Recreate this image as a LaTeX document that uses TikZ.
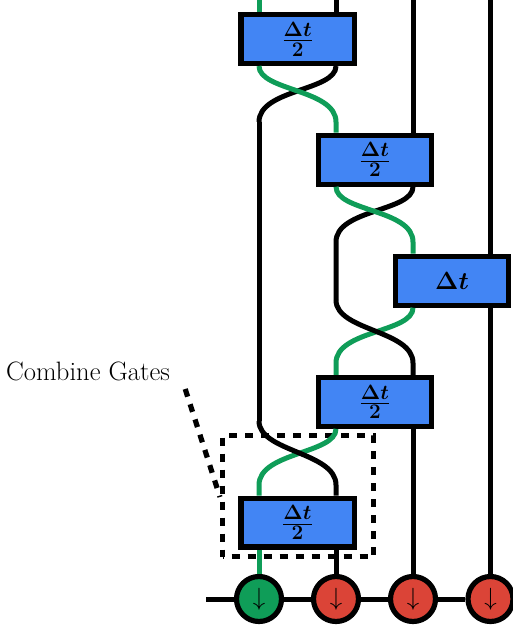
\documentclass[tikz,border=0pt]{standalone}
\definecolor{gblue}{HTML}{4285F4}
\definecolor{ggreen}{HTML}{0F9D58}
\definecolor{gred}{HTML}{DB4437}
\newcommand{\halfstep}{{\fontsize{28}{32}\selectfont\boldmath$\textstyle\frac{\Delta t}{2}$}}
\newcommand{\fullstep}{{\fontsize{25.5}{30}\selectfont\boldmath$\Delta t$}}
\tikzset{
  gatebox/.style={draw=black,fill=gblue,line width=5.2pt,minimum width=113.2pt,minimum height=48.8pt,inner sep=0pt},
  site/.style={circle,draw=black,line width=5.2pt,minimum size=45pt,inner sep=0pt,font=\fontsize{24.5}{30}\selectfont},
  blackwire/.style={draw=black,line width=5pt},
  greenwire/.style={draw=ggreen,line width=5pt},
  dashline/.style={draw=black,line width=5.2pt,dash pattern=on 8pt off 8pt},
}
\begin{document}
\begin{tikzpicture}[x=1pt,y=-1pt]
\useasboundingbox (0,0) rectangle (513,629);
\clip (0,0) rectangle (513,629);
\coordinate (w1) at (259,0);
\coordinate (w2) at (336,0);
\coordinate (w3) at (413,0);
\coordinate (w4) at (490.5,0);
\node[gatebox] (b1) at (297.6,39) {\halfstep};
\node[gatebox] (b2) at (374.85,159.7) {\halfstep};
\node[gatebox] (b3) at (452,280.7) {\fullstep};
\node[gatebox] (b4) at (374.85,401.85) {\halfstep};
\node[gatebox] (b5) at (297.5,522.6) {\halfstep};
\node[site,fill=ggreen] (c1) at (259,599) {$\downarrow$};
\node[site,fill=gred] (c2) at (336,599) {$\downarrow$};
\node[site,fill=gred] (c3) at (413,599) {$\downarrow$};
\node[site,fill=gred] (c4) at (490.5,599) {$\downarrow$};
\node[inner sep=0pt,font=\fontsize{26.6}{30}\selectfont] (lab) at (88,371) {Combine Gates};
\node[dashline,dash phase=7pt,minimum width=151pt,minimum height=121pt,inner sep=0pt] (dbox) at (298,496) {};
\coordinate (lstart) at (185.2,389);
\coordinate (lend) at (220,497);
\coordinate (hstart) at (206,599);
% chain line
\draw[blackwire] (hstart) -- (c1) (c1) -- (c2) (c2) -- (c3) (c3) -- (c4);
% top wires
\draw[greenwire] (w1) -- (w1 |- b1.north);
\draw[blackwire] (w2) -- (w2 |- b1.north);
\draw[blackwire] (w3) -- (w3 |- b2.north);
\draw[blackwire] (w4) -- (w4 |- b3.north);
\draw[blackwire] (b3.south -| w4) -- (w4 |- c4.north);
% crossing 1
\coordinate (j1a) at (259,122);
\coordinate (j1b) at (336,122);
\draw[blackwire] (b1.south -| w2) .. controls +(0,25) and +(0,-33) .. (j1a);
\draw[greenwire] (b1.south -| w1) .. controls +(0,25) and +(0,-33) .. (j1b) -- (w2 |- b2.north);
% crossing 2
\coordinate (j2a) at (336,242);
\coordinate (j2b) at (413,242);
\coordinate (j3a) at (336,300);
\coordinate (j3b) at (413,363);
\coordinate (j3c) at (336,363);
\draw[blackwire] (b2.south -| w3) .. controls +(0,25) and +(0,-33) .. (j2a) -- (j3a);
\draw[greenwire] (b2.south -| w2) .. controls +(0,25) and +(0,-33) .. (j2b) -- (w3 |- b3.north);
% crossing 3, black on top
\draw[greenwire] (b3.south -| w3) .. controls +(0,25) and +(0,-33) .. (j3c) -- (w2 |- b4.north);
\draw[blackwire] (j3a) .. controls +(0,31) and +(0,-33) .. (j3b) -- (w3 |- b4.north);
% crossing 4
\coordinate (j4a) at (259,421);
\coordinate (j4b) at (336,485);
\coordinate (j4c) at (259,485);
\draw[blackwire] (j1a) -- (j4a);
\draw[greenwire] (b4.south -| w2) .. controls +(0,25) and +(0,-33) .. (j4c) -- (w1 |- b5.north);
\draw[blackwire] (j4a) .. controls +(0,31) and +(0,-33) .. (j4b) -- (w2 |- b5.north);
% bottom wires
\draw[blackwire] (b4.south -| w3) -- (w3 |- c3.north);
\draw[greenwire] (b5.south -| w1) -- (w1 |- c1.north);
\draw[blackwire] (b5.south -| w2) -- (w2 |- c2.north);
% label pointer
\draw[dashline] (lstart) -- (lend);
\end{tikzpicture}
\end{document}
